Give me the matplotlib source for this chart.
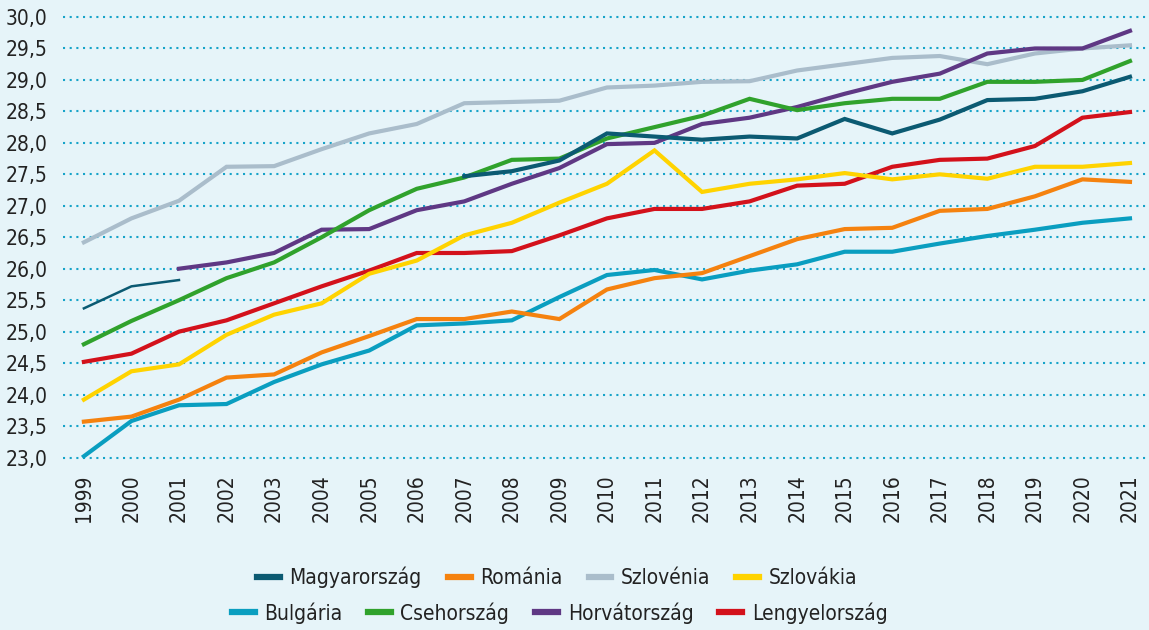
import numpy as np
import matplotlib
matplotlib.use("Agg")
import matplotlib.pyplot as plt
from matplotlib.lines import Line2D
from matplotlib.ticker import FuncFormatter

plt.rcParams['font.family'] = ['DejaVu Sans']
plt.rcParams['font.stretch'] = 'condensed'

years = list(range(1999, 2022))
nan = np.nan

magyarorszag = [25.37, 25.72, 25.82, nan, nan, nan, nan, nan, 27.47, 27.55, 27.72, 28.15,
                28.10, 28.05, 28.10, 28.07, 28.38, 28.15, 28.37, 28.68, 28.70, 28.82, 29.05]
romania = [23.57, 23.65, 23.92, 24.27, 24.32, 24.67, 24.93, 25.20, 25.20, 25.32, 25.20, 25.67,
           25.85, 25.93, 26.20, 26.47, 26.63, 26.65, 26.92, 26.95, 27.15, 27.42, 27.38]
szlovenia = [26.42, 26.80, 27.08, 27.62, 27.63, 27.90, 28.15, 28.30, 28.63, 28.65, 28.67, 28.88,
             28.91, 28.97, 28.98, 29.15, 29.25, 29.35, 29.38, 29.25, 29.42, 29.50, 29.55]
szlovakia = [23.92, 24.37, 24.48, 24.95, 25.27, 25.45, 25.92, 26.13, 26.53, 26.73, 27.05, 27.35,
             27.88, 27.22, 27.35, 27.42, 27.52, 27.42, 27.50, 27.43, 27.62, 27.62, 27.68]
bulgaria = [23.02, 23.58, 23.83, 23.85, 24.20, 24.48, 24.70, 25.10, 25.13, 25.18, 25.55, 25.90,
            25.98, 25.83, 25.97, 26.07, 26.27, 26.27, 26.40, 26.52, 26.62, 26.73, 26.80]
csehorszag = [24.80, 25.17, 25.50, 25.85, 26.10, 26.50, 26.93, 27.27, 27.45, 27.73, 27.75, 28.07,
              28.25, 28.43, 28.70, 28.52, 28.63, 28.70, 28.70, 28.97, 28.97, 29.00, 29.30]
horvatorszag = [nan, nan, 26.00, 26.10, 26.25, 26.62, 26.63, 26.93, 27.07, 27.35, 27.60, 27.98,
                28.00, 28.30, 28.40, 28.57, 28.78, 28.97, 29.10, 29.42, 29.50, 29.50, 29.78]
lengyelorszag = [24.52, 24.65, 25.00, 25.18, 25.45, 25.72, 25.97, 26.25, 26.25, 26.28, 26.53, 26.80,
                 26.95, 26.95, 27.07, 27.32, 27.35, 27.62, 27.73, 27.75, 27.95, 28.40, 28.49]

series = [
    ("Magyarország", magyarorszag, "#0b5a72"),
    ("Románia", romania, "#f5820f"),
    ("Szlovénia", szlovenia, "#aabdcb"),
    ("Szlovákia", szlovakia, "#ffd300"),
    ("Bulgária", bulgaria, "#0a9ec0"),
    ("Csehország", csehorszag, "#30a22c"),
    ("Horvátország", horvatorszag, "#5f3884"),
    ("Lengyelország", lengyelorszag, "#d3111b"),
]

bg = "#e6f4f9"
fig = plt.figure(figsize=(11.49, 6.30), dpi=100, facecolor=bg)
ax = fig.add_axes([0.0548, 0.2738, 0.9452, 0.6992], facecolor=bg)

order = ["Szlovénia", "Bulgária", "Románia", "Lengyelország", "Szlovákia",
         "Horvátország", "Csehország", "Magyarország"]
lookup = {name: (vals, col) for name, vals, col in series}
for name in order:
    vals, col = lookup[name]
    if name == "Magyarország":
        # early part drawn thinner in the original
        ax.plot(years[:3], vals[:3], color=col, lw=1.8, clip_on=False, zorder=3)
        ax.plot(years[8:], vals[8:], color=col, lw=3.0, clip_on=False, zorder=3,
                solid_joinstyle='miter')
    else:
        ax.plot(years, vals, color=col, lw=3.0, clip_on=False, zorder=3,
                solid_joinstyle='miter')

ax.set_xlim(1998.56, 2021.4)
ax.set_ylim(23.0, 30.0)
ax.set_yticks(np.arange(23.0, 30.01, 0.5))
ax.set_xticks(years)
ax.set_xticklabels([str(y) for y in years], rotation=90)
ax.yaxis.set_major_formatter(FuncFormatter(lambda v, p: f"{v:.1f}".replace(".", ",")))
ax.grid(axis='y', color="#17a3c9", lw=1.5, linestyle=(0, (1, 2.2)), clip_on=False)
ax.set_axisbelow(True)
for s in ax.spines.values():
    s.set_visible(False)
ax.tick_params(axis='both', length=0, labelsize=15, colors="#222222")
ax.tick_params(axis='y', pad=11)
ax.tick_params(axis='x', pad=12)

def handles(names):
    return [Line2D([0], [0], color=lookup[n][1], lw=4.5) for n in names]

row1 = ["Magyarország", "Románia", "Szlovénia", "Szlovákia"]
row2 = ["Bulgária", "Csehország", "Horvátország", "Lengyelország"]
leg_kw = dict(loc='center', ncol=4, frameon=False, fontsize=15, handlelength=1.1,
              handletextpad=0.45, columnspacing=1.25, labelcolor="#222222")
fig.legend(handles(row1), row1, bbox_to_anchor=(0.485, 0.084), **leg_kw)
fig.legend(handles(row2), row2, bbox_to_anchor=(0.487, 0.027), **leg_kw)

fig.savefig("out.png", dpi=100, facecolor=bg)
